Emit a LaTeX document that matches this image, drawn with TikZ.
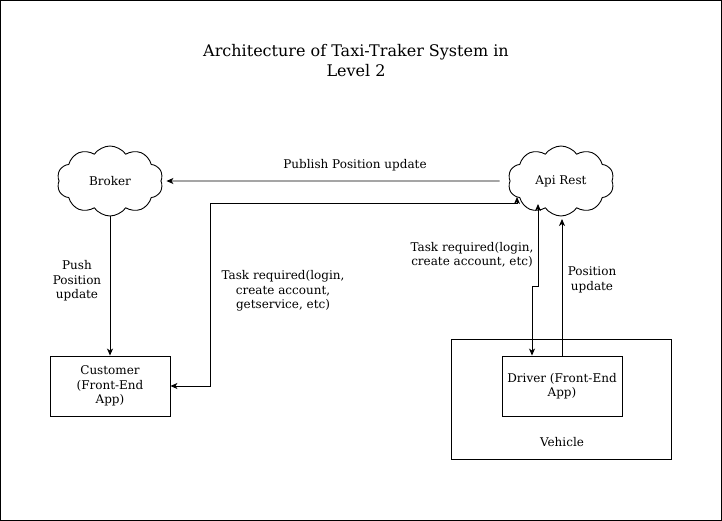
\documentclass[tikz,border=0pt]{standalone}
\usepackage{fontspec}
\setmainfont{DejaVu Serif}
\usepackage{tikz}
\usetikzlibrary{positioning,calc,shapes.symbols,arrows.meta}

\begin{document}
\begin{tikzpicture}[x=1pt,y=-1pt,line width=0.9pt]
        \tikzstyle{box}=[rectangle, draw, inner sep=0pt, minimum width=120pt, minimum height=60pt, align=center, font=\fontsize{12}{14.5}\selectfont]
        \tikzstyle{puff}=[cloud, draw, cloud puffs=10, cloud puff arc=110, aspect=1.6, inner sep=0pt, minimum width=106pt, minimum height=70pt, font=\fontsize{12}{14.5}\selectfont]
        \tikzstyle{lbl}=[align=center, font=\fontsize{12}{14.5}\selectfont]
        \tikzstyle{conn}=[-{Stealth[length=7pt,width=6pt,inset=2pt]}]
        \tikzstyle{both}=[{Stealth[length=7pt,width=6pt,inset=2pt]}-{Stealth[length=7pt,width=6pt,inset=2pt]}]

        \useasboundingbox (0,0) rectangle (722,521);
        \draw (0.5,0.5) rectangle (721.5,520.5);

        \node[lbl, font=\fontsize{16}{20}\selectfont] (title) at (356,61) {Architecture of Taxi-Traker System in\\Level 2};

        \node[puff] (broker) at (110,181) {Broker};
        \node[puff] (api) at (561,181) {Api Rest};
        \node[box] (customer) at (110,386) {Customer\\(Front-End\\App)};
        \node[box, minimum width=220pt, minimum height=120pt] (vehicle) at (561,399) {};
        \node[lbl] (vlabel) at (562,442) {Vehicle};
        \node[box] (driver) at (562,386) {Driver (Front-End\\App)};

        \coordinate (apiA) at (517,197);
        \coordinate (apiB) at (538,204);
        \coordinate (apiC) at (562,219);

        \draw[conn] ([xshift=-10pt]api.west) -- ([xshift=5pt]broker.east);
        \node[lbl] (publbl) at (355,165) {Publish Position update};

        \draw[conn] (broker.south) -- (customer.north);
        \node[lbl] (pushlbl) at (77,281) {Push\\Position\\update};

        \draw[both] (customer.east) -- ++(40,0) |- ([yshift=-6pt]apiA) -- (apiA);
        \node[lbl] (tasklbl) at (283,291) {Task required(login,\\create account,\\getservice, etc)};

        \draw[both] ([xshift=-30pt]driver.north) -- ++(0,-69) -| (apiB);
        \node[lbl] (drvlbl) at (472,255) {Task required(login,\\create account, etc)};

        \draw[conn] (driver.north) -- (apiC);
        \node[lbl] (poslbl) at (592,280) {Position\\update};
\end{tikzpicture}
\end{document}
